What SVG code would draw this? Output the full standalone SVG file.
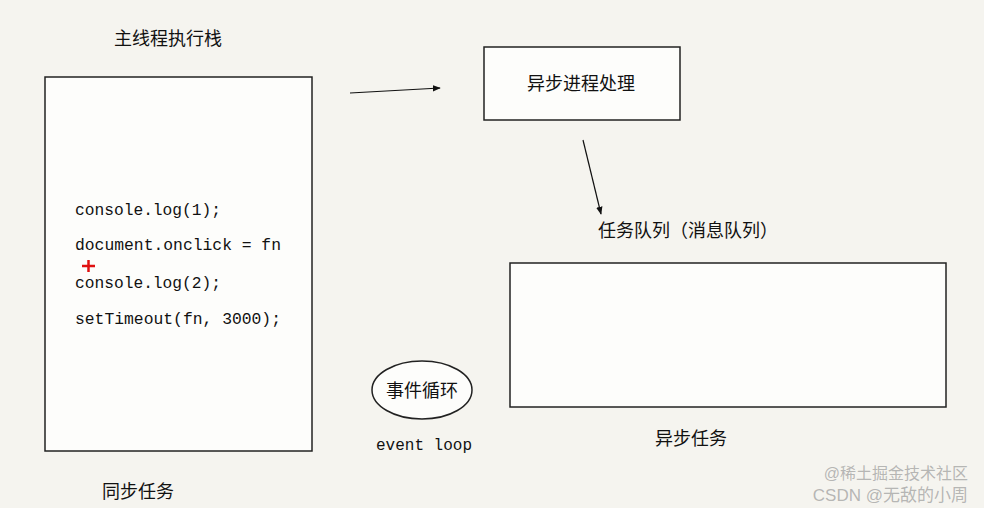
<svg xmlns="http://www.w3.org/2000/svg" width="984" height="508" viewBox="0 0 984 508">
<style>
.box{fill:#fdfdfb;stroke:#222;stroke-width:1.5}
.cn{font-family:"Noto Sans CJK SC","Liberation Sans",sans-serif;font-size:18px;fill:#111}
.code{font-family:"Liberation Mono","DejaVu Sans Mono",monospace;font-size:16px;fill:#111}
.wm{font-family:"Liberation Sans","Noto Sans CJK SC",sans-serif;fill:#9a9a9a;fill-opacity:0.7}
.conn{stroke:#111;stroke-width:1.2;fill:none;marker-end:url(#ah)}
</style>
<defs>
<marker id="ah" viewBox="0 0 10 10" refX="9" refY="5" markerWidth="8" markerHeight="8" orient="auto" markerUnits="userSpaceOnUse">
<path d="M0,1 L10,5 L0,9 Z" fill="#111"/>
</marker>
</defs>
<rect width="984" height="508" fill="#f5f4ef"/>
<g id="main-stack">
<text class="cn" x="168" y="45" text-anchor="middle">主线程执行栈</text>
<rect class="box" x="45" y="77" width="267" height="374"/>
<text class="code" x="75" y="215" textLength="146" lengthAdjust="spacingAndGlyphs">console.log(1);</text>
<text class="code" x="75" y="250" textLength="206" lengthAdjust="spacingAndGlyphs">document.onclick = fn</text>
<text class="code" x="75" y="288" textLength="146" lengthAdjust="spacingAndGlyphs">console.log(2);</text>
<text class="code" x="75" y="324" textLength="206" lengthAdjust="spacingAndGlyphs">setTimeout(fn, 3000);</text>
<path d="M82,266 H95 M88.5,260 V272" stroke="#e01010" stroke-width="2.5"/>
<text class="cn" x="138" y="498" text-anchor="middle">同步任务</text>
</g>
<g id="async-process">
<rect class="box" x="484" y="47" width="196" height="73"/>
<text class="cn" x="581" y="90" text-anchor="middle">异步进程处理</text>
</g>
<g id="task-queue">
<text class="cn" x="688" y="237" text-anchor="middle">任务队列（消息队列）</text>
<rect class="box" x="510" y="263" width="436" height="144"/>
<text class="cn" x="691" y="445" text-anchor="middle">异步任务</text>
</g>
<g id="event-loop">
<ellipse cx="422" cy="390" rx="50" ry="29" fill="#fdfdfb" stroke="#222" stroke-width="1.5"/>
<text class="cn" x="422" y="397" text-anchor="middle">事件循环</text>
<text class="code" x="424" y="450" text-anchor="middle">event loop</text>
</g>
<g id="connectors">
<path class="conn" d="M350,93 L440,88"/>
<path class="conn" d="M583,140 L601,214"/>
</g>
<g id="watermark">
<text class="wm" x="968" y="479" text-anchor="end" font-size="16">@稀土掘金技术社区</text>
<text class="wm" x="968" y="501" text-anchor="end" font-size="17">CSDN @无敌的小周</text>
</g>
</svg>
